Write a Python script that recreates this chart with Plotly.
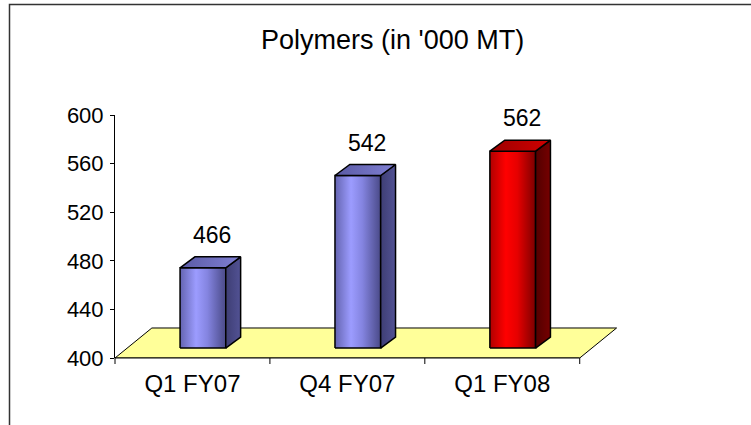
import plotly.graph_objects as go

# Chart data
categories = ["Q1 FY07", "Q4 FY07", "Q1 FY08"]
volumes = [466, 542, 562]
y_ticks = [400, 440, 480, 520, 560, 600]
chart_title = "Polymers (in '000 MT)"

# Face shading for each column: (front gradient, side gradient, top gradient)
BLUE = (
    [[0, "#6464b0"], [0.35, "#9c9cff"], [0.6, "#8484e0"], [1, "#4a4a88"]],
    [[0, "#3e3e74"], [1, "#525294"]],
    [[0, "#5a5aa4"], [1, "#8080d4"]],
)
RED = (
    [[0, "#b00000"], [0.35, "#ff0000"], [0.6, "#e60000"], [1, "#7c0000"]],
    [[0, "#520000"], [1, "#760000"]],
    [[0, "#9c0000"], [1, "#d00000"]],
)
bar_styles = [BLUE, BLUE, RED]

# Pseudo-3D geometry, in axis units
FLOOR_DX, FLOOR_DY = 0.238, 24.7     # depth of the floor plane
FRONT_DX, FRONT_DY = 0.0675, 8.2     # column front plane inside the floor
BAR_W = 0.295                        # column width
BAR_DX, BAR_DY = 0.096, 9.05         # column depth
BASE = y_ticks[0]

fig = go.Figure()


def face(xs, ys, scale):
    fig.add_trace(go.Scatter(
        x=xs + [xs[0]], y=ys + [ys[0]], mode="lines", fill="toself",
        fillgradient=dict(type="horizontal", colorscale=scale),
        line=dict(color="black", width=1.5),
        hoverinfo="skip", showlegend=False,
    ))


for i, (cat, val) in enumerate(zip(categories, volumes)):
    front_cs, side_cs, top_cs = bar_styles[i]
    x0 = i + FRONT_DX - BAR_W / 2
    x1 = x0 + BAR_W
    yb = BASE + FRONT_DY
    yt = val + FRONT_DY
    # front face
    face([x0, x1, x1, x0], [yb, yb, yt, yt], front_cs)
    # right side face
    face([x1, x1 + BAR_DX, x1 + BAR_DX, x1],
         [yb, yb + BAR_DY, yt + BAR_DY, yt], side_cs)
    # top face
    face([x0, x1, x1 + BAR_DX, x0 + BAR_DX],
         [yt, yt, yt + BAR_DY, yt + BAR_DY], top_cs)
    # value label
    fig.add_annotation(
        x=i + FRONT_DX + 0.058, y=yt, xref="x", yref="y",
        text=str(val), showarrow=False, yshift=33,
        font=dict(size=23, color="black"),
    )

n = len(categories)
# floor plane
fig.add_shape(
    type="path", xref="x", yref="y", layer="below",
    path=(f"M {-0.5},{BASE} L {n - 0.5},{BASE} "
          f"L {n - 0.5 + FLOOR_DX},{BASE + FLOOR_DY} "
          f"L {-0.5 + FLOOR_DX},{BASE + FLOOR_DY} Z"),
    fillcolor="#ffff99", line=dict(color="black", width=1),
)

# category axis line and boundary tick marks
PLOT_H = 243
fig.add_shape(type="line", xref="x", yref="paper", x0=-0.5, x1=n - 0.5,
              y0=0, y1=0, line=dict(color="black", width=1))
fig.add_shape(type="line", xref="paper", yref="paper", x0=0, x1=0,
              y0=0, y1=-6 / PLOT_H, line=dict(color="black", width=1))
for b in range(n):
    fig.add_shape(type="line", xref="x", yref="paper", x0=b + 0.5, x1=b + 0.5,
                  y0=0, y1=-6 / PLOT_H, line=dict(color="black", width=1))

# chart frame
L, T, PW = 115, 115, 505
fig.add_shape(type="rect", xref="paper", yref="paper",
              x0=(9.5 - L) / PW, x1=(760 - L) / PW,
              y0=-(440 - 358) / PLOT_H, y1=(358 - 4.5) / PLOT_H,
              line=dict(color="#333333", width=1.5), fillcolor="rgba(0,0,0,0)")

fig.add_annotation(
    text=chart_title, xref="paper", yref="paper",
    x=(392 - L) / PW, y=(358 - 40) / PLOT_H,
    xanchor="center", yanchor="middle", showarrow=False,
    font=dict(size=27, color="black"),
)

fig.update_layout(
    width=751, height=425,
    margin=dict(l=115, r=131, t=115, b=67),
    paper_bgcolor="white", plot_bgcolor="rgba(0,0,0,0)",
    font=dict(family="Liberation Sans, Arial, sans-serif", color="black"),
    showlegend=False,
)
fig.update_xaxes(
    range=[-0.5, n - 0.5 + 0.26], tickvals=list(range(n)), ticktext=categories,
    ticks="", showline=False, showgrid=False, zeroline=False,
    tickfont=dict(size=24), ticklabelstandoff=9,
)
fig.update_yaxes(
    range=[BASE, y_ticks[-1]], tickvals=y_ticks, ticks="outside", ticklen=4,
    tickcolor="black", showline=True, linecolor="black", linewidth=1,
    showgrid=False, zeroline=False, tickfont=dict(size=22),
    ticklabelstandoff=2,
)

fig.write_html("out.html")
